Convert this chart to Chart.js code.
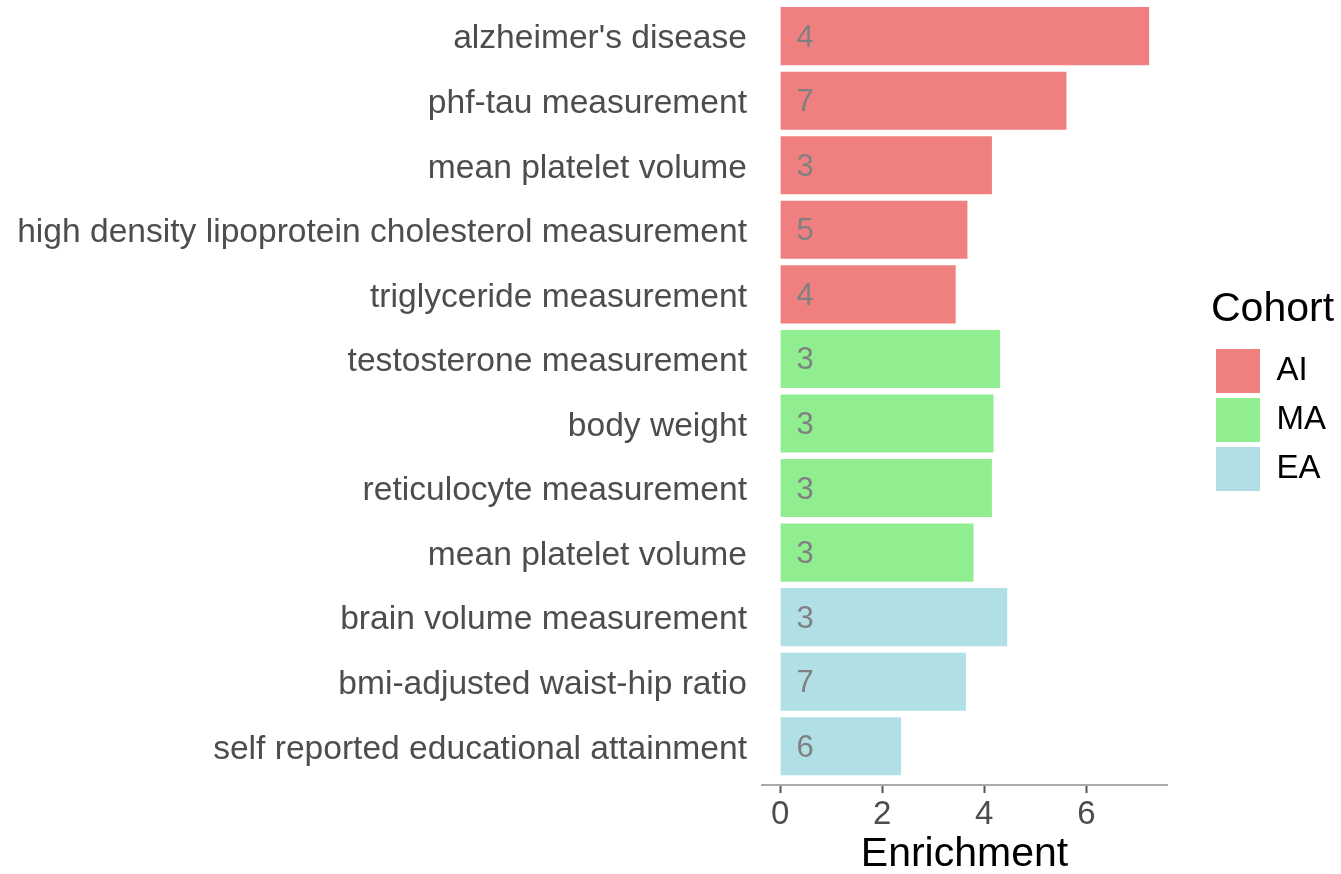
<!DOCTYPE html>
<html lang="en">
<head>
  <meta charset="UTF-8">
  <title>Enrichment by Cohort</title>
  <script src="https://cdn.jsdelivr.net/npm/chart.js"></script>
  <style>
    html, body { margin: 0; padding: 0; background: #fff; }
    #wrap { width: 1341px; height: 874px; }
  </style>
</head>
<body>
  <div id="wrap">
    <canvas id="enrichChart"></canvas>
  </div>

  <script>
    // data (top to bottom)
    const terms = [
      "alzheimer's disease",
      "phf-tau measurement",
      "mean platelet volume",
      "high density lipoprotein cholesterol measurement",
      "triglyceride measurement",
      "testosterone measurement",
      "body weight",
      "reticulocyte measurement",
      "mean platelet volume",
      "brain volume measurement",
      "bmi-adjusted waist-hip ratio",
      "self reported educational attainment"
    ];
    const enrichment = [7.23, 5.61, 4.15, 3.67, 3.44, 4.31, 4.18, 4.15, 3.79, 4.45, 3.64, 2.37];
    const geneCounts = [4, 7, 3, 5, 4, 3, 3, 3, 3, 3, 7, 6];
    const cohort = ['AI', 'AI', 'AI', 'AI', 'AI', 'MA', 'MA', 'MA', 'MA', 'EA', 'EA', 'EA'];
    const cohortNames = ['AI', 'MA', 'EA'];
    const xTicks = [0, 2, 4, 6];

    const cohortColors = { AI: '#F08080', MA: '#90EE90', EA: '#B0E0E6' };
    const FONT = "'Liberation Sans', Arial, Helvetica, sans-serif";

    // draw the gene count inside each bar, near its base
    const countLabels = {
      id: 'countLabels',
      afterDatasetsDraw(chart) {
        const ctx = chart.ctx;
        const meta = chart.getDatasetMeta(0);
        ctx.save();
        ctx.font = '31px ' + FONT;
        ctx.fillStyle = '#808080';
        ctx.textAlign = 'left';
        ctx.textBaseline = 'middle';
        meta.data.forEach((bar, i) => {
          ctx.fillText(String(geneCounts[i]), bar.base + 16, bar.y + 2);
        });
        ctx.restore();
      }
    };

    // empty layout box that keeps some room between the plot and the legend
    const legendGap = {
      id: 'legendGap',
      beforeInit(chart) {
        Chart.layouts.addBox(chart, {
          position: 'right',
          weight: 500,
          fullSize: false,
          options: {},
          width: 0,
          height: 0,
          isHorizontal() { return false; },
          update(maxWidth, maxHeight) { this.width = 44; this.height = maxHeight; },
          draw() {}
        });
      }
    };

    const ctx = document.getElementById('enrichChart').getContext('2d');
    new Chart(ctx, {
      type: 'bar',
      data: {
        datasets: [{
          label: 'Enrichment',
          data: enrichment.map((v, i) => ({ x: v, y: i })),
          backgroundColor: cohort.map(c => cohortColors[c]),
          borderWidth: 0,
          barPercentage: 0.9,
          categoryPercentage: 1
        }]
      },
      options: {
        indexAxis: 'y',
        responsive: true,
        maintainAspectRatio: false,
        animation: false,
        layout: { padding: { top: 0, right: 5, bottom: 0, left: 0 } },
        scales: {
          y: {
            type: 'linear',
            reverse: true,
            offset: false,
            min: -0.56,
            max: 11.6,
            grid: { display: false, drawTicks: false, offset: false },
            border: { display: false },
            ticks: {
              stepSize: 1,
              maxTicksLimit: 20,
              includeBounds: false,
              padding: 15,
              labelOffset: 3,
              color: '#4D4D4D',
              font: { family: FONT, size: 33.6 },
              callback: v => (terms[v] !== undefined ? terms[v] : '')
            },
            afterFit: s => {
              s.width = 762;
              s.paddingTop = 0;
              s.paddingBottom = 0;
            }
          },
          x: {
            type: 'linear',
            min: -0.355,
            max: 7.58,
            grid: {
              drawOnChartArea: false,
              drawTicks: true,
              tickLength: 8,
              tickWidth: 2,
              tickColor: '#555555'
            },
            border: { display: true, color: '#AAAAAA', width: 2 },
            ticks: {
              stepSize: 2,
              includeBounds: false,
              padding: 2,
              color: '#4D4D4D',
              font: { family: FONT, size: 33 },
              callback: v => (xTicks.includes(v) ? String(v) : '')
            },
            title: {
              display: true,
              text: 'Enrichment',
              color: '#000000',
              padding: 0,
              font: { family: FONT, size: 41, lineHeight: 0.92 }
            },
            afterFit: s => {
              s.height = 89;
              s.paddingLeft = 0;
              s.paddingRight = 0;
            }
          }
        },
        plugins: {
          tooltip: { enabled: false },
          legend: {
            position: 'right',
            fullSize: false,
            onClick: null,
            title: {
              display: true,
              text: 'Cohort',
              color: '#000000',
              position: 'start',
              padding: { top: 0, bottom: 6 },
              font: { family: FONT, size: 41 }
            },
            labels: {
              boxWidth: 44,
              boxHeight: 44,
              padding: 5,
              color: '#000000',
              font: { family: FONT, size: 33 },
              generateLabels: () => cohortNames.map((c, i) => ({
                text: c,
                fillStyle: cohortColors[c],
                strokeStyle: cohortColors[c],
                lineWidth: 0,
                fontColor: '#000000',
                hidden: false,
                index: i
              }))
            }
          }
        }
      },
      plugins: [countLabels, legendGap]
    });
  </script>
</body>
</html>
